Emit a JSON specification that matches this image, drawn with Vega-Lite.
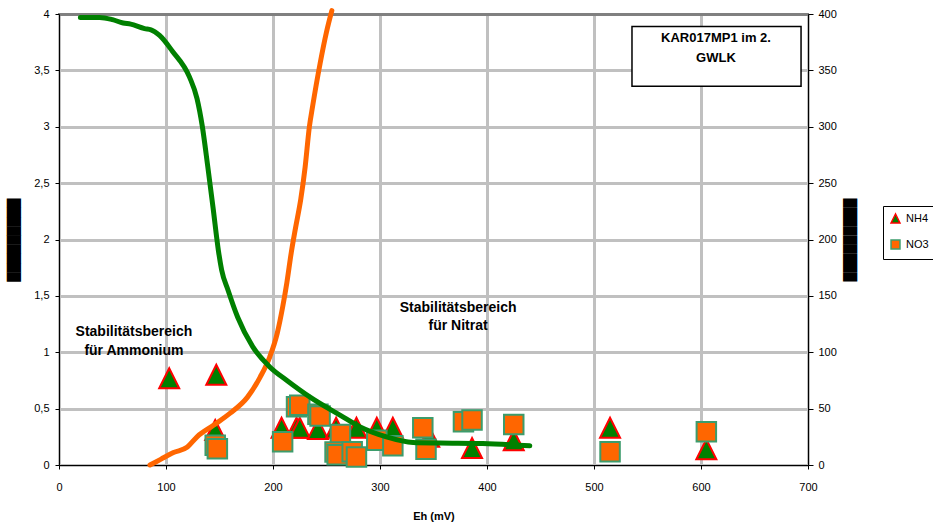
{
  "$schema": "https://vega.github.io/schema/vega-lite/v6.json",
  "width": 749,
  "height": 451,
  "autosize": {"type": "none"},
  "padding": {"left": 59, "top": 14, "right": 125, "bottom": 59},
  "background": "white",
  "config": {
    "font": "Liberation Sans",
    "view": {"stroke": "#808080", "strokeWidth": 2},
    "axis": {
      "labelFont": "Liberation Sans",
      "labelFontSize": 11,
      "labelColor": "#000",
      "domainColor": "#000",
      "domainWidth": 1,
      "tickColor": "#000",
      "tickWidth": 1,
      "tickSize": 4,
      "gridColor": "#c0c0c0",
      "gridWidth": 3,
      "titleFont": "Liberation Sans",
      "titleColor": "#000",
      "labelFlush": false
    },
    "legend": {
      "orient": "none",
      "legendX": 824,
      "legendY": 192,
      "padding": 7,
      "strokeColor": "#000",
      "fillColor": "white",
      "symbolSize": 80,
      "symbolStrokeWidth": 1.5,
      "labelFont": "Liberation Sans",
      "labelFontSize": 11,
      "labelColor": "#000",
      "labelOffset": 5,
      "rowPadding": 11
    }
  },
  "datasets": {
    "samples": [
      {"Parameter": "NH4", "Eh": 103, "Wert": 0.77},
      {"Parameter": "NH4", "Eh": 147, "Wert": 0.8},
      {"Parameter": "NH4", "Eh": 146, "Wert": 0.31},
      {"Parameter": "NH4", "Eh": 208, "Wert": 0.33},
      {"Parameter": "NH4", "Eh": 222, "Wert": 0.33},
      {"Parameter": "NH4", "Eh": 225, "Wert": 0.33},
      {"Parameter": "NH4", "Eh": 242, "Wert": 0.32},
      {"Parameter": "NH4", "Eh": 259, "Wert": 0.33},
      {"Parameter": "NH4", "Eh": 278, "Wert": 0.33},
      {"Parameter": "NH4", "Eh": 297, "Wert": 0.33},
      {"Parameter": "NH4", "Eh": 312, "Wert": 0.33},
      {"Parameter": "NH4", "Eh": 346, "Wert": 0.25},
      {"Parameter": "NH4", "Eh": 386, "Wert": 0.15},
      {"Parameter": "NH4", "Eh": 425, "Wert": 0.22},
      {"Parameter": "NH4", "Eh": 515, "Wert": 0.33},
      {"Parameter": "NH4", "Eh": 605, "Wert": 0.14},
      {"Parameter": "NO3", "Eh": 146, "Wert": 17.5},
      {"Parameter": "NO3", "Eh": 148, "Wert": 14.5},
      {"Parameter": "NO3", "Eh": 209, "Wert": 20.7},
      {"Parameter": "NO3", "Eh": 222, "Wert": 51.7},
      {"Parameter": "NO3", "Eh": 225, "Wert": 53},
      {"Parameter": "NO3", "Eh": 242, "Wert": 45},
      {"Parameter": "NO3", "Eh": 244, "Wert": 43.5},
      {"Parameter": "NO3", "Eh": 263, "Wert": 27},
      {"Parameter": "NO3", "Eh": 258, "Wert": 11.5},
      {"Parameter": "NO3", "Eh": 260, "Wert": 9},
      {"Parameter": "NO3", "Eh": 274, "Wert": 11.8},
      {"Parameter": "NO3", "Eh": 278, "Wert": 7},
      {"Parameter": "NO3", "Eh": 297, "Wert": 22},
      {"Parameter": "NO3", "Eh": 312, "Wert": 17},
      {"Parameter": "NO3", "Eh": 340, "Wert": 33},
      {"Parameter": "NO3", "Eh": 343, "Wert": 14},
      {"Parameter": "NO3", "Eh": 378, "Wert": 38.4},
      {"Parameter": "NO3", "Eh": 386, "Wert": 40},
      {"Parameter": "NO3", "Eh": 425, "Wert": 36},
      {"Parameter": "NO3", "Eh": 515, "Wert": 11.8},
      {"Parameter": "NO3", "Eh": 605, "Wert": 29.5}
    ],
    "nh4curve": [
      {"Eh": 20, "NH4": 3.97}, {"Eh": 38, "NH4": 3.97}, {"Eh": 50, "NH4": 3.95},
      {"Eh": 60, "NH4": 3.92}, {"Eh": 67, "NH4": 3.91}, {"Eh": 80, "NH4": 3.87},
      {"Eh": 86, "NH4": 3.86}, {"Eh": 94, "NH4": 3.81}, {"Eh": 106, "NH4": 3.67},
      {"Eh": 122, "NH4": 3.44}, {"Eh": 129, "NH4": 3.25}, {"Eh": 134, "NH4": 3.0},
      {"Eh": 139, "NH4": 2.65}, {"Eh": 144, "NH4": 2.28}, {"Eh": 149, "NH4": 1.9},
      {"Eh": 152, "NH4": 1.73}, {"Eh": 158, "NH4": 1.55}, {"Eh": 167, "NH4": 1.31},
      {"Eh": 181, "NH4": 1.05}, {"Eh": 197, "NH4": 0.87}, {"Eh": 213, "NH4": 0.75},
      {"Eh": 235, "NH4": 0.6}, {"Eh": 263, "NH4": 0.44}, {"Eh": 281, "NH4": 0.34},
      {"Eh": 306, "NH4": 0.25}, {"Eh": 331, "NH4": 0.2}, {"Eh": 356, "NH4": 0.195},
      {"Eh": 396, "NH4": 0.19}, {"Eh": 440, "NH4": 0.17}
    ],
    "no3curve": [
      {"Eh": 85, "NO3": 0}, {"Eh": 95, "NO3": 5}, {"Eh": 107, "NO3": 11},
      {"Eh": 120, "NO3": 16}, {"Eh": 129, "NO3": 25}, {"Eh": 144, "NO3": 35},
      {"Eh": 160, "NO3": 46}, {"Eh": 176, "NO3": 60}, {"Eh": 188, "NO3": 78},
      {"Eh": 197, "NO3": 96}, {"Eh": 204, "NO3": 117}, {"Eh": 209, "NO3": 140},
      {"Eh": 213, "NO3": 162}, {"Eh": 217, "NO3": 188}, {"Eh": 221, "NO3": 210},
      {"Eh": 226, "NO3": 236}, {"Eh": 230, "NO3": 264}, {"Eh": 234, "NO3": 300},
      {"Eh": 237, "NO3": 318}, {"Eh": 244, "NO3": 356}, {"Eh": 250, "NO3": 384},
      {"Eh": 255, "NO3": 403}
    ],
    "notes": [
      {"Text": "Stabilitätsbereich", "Eh": 70, "Pos": 1.18},
      {"Text": "für Ammonium", "Eh": 70, "Pos": 1.01},
      {"Text": "Stabilitätsbereich", "Eh": 373, "Pos": 1.39},
      {"Text": "für Nitrat", "Eh": 373, "Pos": 1.23}
    ],
    "box": [
      {"x1": 535.5, "x2": 693.5, "y1": 3.89, "y2": 3.36}
    ],
    "boxtext": [
      {"Text": "KAR017MP1 im 2.", "Eh": 614, "Pos": 3.79},
      {"Text": "GWLK", "Eh": 614, "Pos": 3.61}
    ]
  },
  "layer": [
    {
      "data": {"name": "samples"},
      "transform": [{"filter": "datum.Parameter == 'NH4'"}],
      "mark": {"type": "point", "filled": true, "size": 400, "strokeWidth": 2, "opacity": 1},
      "encoding": {
        "x": {
          "field": "Eh", "type": "quantitative",
          "scale": {"domain": [0, 700], "nice": false, "zero": false},
          "axis": {
            "values": [0, 100, 200, 300, 400, 500, 600, 700],
            "grid": true,
            "tickSize": 4,
            "labelPadding": 12,
            "title": "Eh (mV)",
            "titleFontSize": 11,
            "titleFontWeight": "bold",
            "titlePadding": 18
          }
        },
        "y": {
          "field": "Wert", "type": "quantitative",
          "scale": {"domain": [0, 4], "nice": false, "zero": false},
          "axis": {
            "orient": "left",
            "values": [0, 0.5, 1, 1.5, 2, 2.5, 3, 3.5, 4],
            "labelExpr": "replace(format(datum.value, '~g'), '.', ',')",
            "grid": true,
            "gridColor": {"condition": {"test": "datum.value == 4", "value": "#808080"}, "value": "#c0c0c0"},
            "labelPadding": 6,
            "title": "█████████",
            "titleFont": "DejaVu Sans",
            "titleFontSize": 12,
            "titleFontWeight": "normal",
            "titlePadding": 13
          }
        },
        "shape": {
          "field": "Parameter", "type": "nominal",
          "scale": {"domain": ["NH4", "NO3"], "range": ["M0,-1L-1,1L1,1Z", "square"]},
          "legend": {"title": null}
        },
        "fill": {
          "field": "Parameter", "type": "nominal",
          "scale": {"domain": ["NH4", "NO3"], "range": ["#008000", "#ff6600"]},
          "legend": {"title": null}
        },
        "stroke": {
          "field": "Parameter", "type": "nominal",
          "scale": {"domain": ["NH4", "NO3"], "range": ["#ff0000", "#3c9c6c"]},
          "legend": {"title": null}
        }
      }
    },
    {
      "data": {"name": "samples"},
      "transform": [{"filter": "datum.Parameter == 'NO3'"}],
      "mark": {"type": "point", "filled": true, "size": 380, "strokeWidth": 2, "opacity": 1},
      "encoding": {
        "x": {"field": "Eh", "type": "quantitative", "scale": {"domain": [0, 700], "nice": false, "zero": false}},
        "y": {
          "field": "Wert", "type": "quantitative",
          "scale": {"domain": [0, 400], "nice": false, "zero": false},
          "axis": {
            "orient": "right",
            "values": [0, 50, 100, 150, 200, 250, 300, 350, 400],
            "grid": false,
            "tickSize": 5,
            "labelPadding": 5,
            "title": "█████████",
            "titleFont": "DejaVu Sans",
            "titleFontSize": 12,
            "titleFontWeight": "normal",
            "titlePadding": 6
          }
        },
        "shape": {"field": "Parameter", "type": "nominal", "scale": {"domain": ["NH4", "NO3"], "range": ["M0,-1L-1,1L1,1Z", "square"]}, "legend": {"title": null}},
        "fill": {"field": "Parameter", "type": "nominal", "scale": {"domain": ["NH4", "NO3"], "range": ["#008000", "#ff6600"]}, "legend": {"title": null}},
        "stroke": {"field": "Parameter", "type": "nominal", "scale": {"domain": ["NH4", "NO3"], "range": ["#ff0000", "#3c9c6c"]}, "legend": {"title": null}}
      }
    },
    {
      "data": {"name": "no3curve"},
      "mark": {"type": "line", "color": "#ff6600", "strokeWidth": 5, "strokeCap": "round", "strokeJoin": "round", "interpolate": "monotone"},
      "encoding": {
        "x": {"field": "Eh", "type": "quantitative", "scale": {"domain": [0, 700], "nice": false, "zero": false}},
        "y": {"field": "NO3", "type": "quantitative", "scale": {"domain": [0, 400], "nice": false, "zero": false}, "axis": null}
      }
    },
    {
      "data": {"name": "nh4curve"},
      "mark": {"type": "line", "color": "#008000", "strokeWidth": 5, "strokeCap": "round", "strokeJoin": "round", "interpolate": "monotone"},
      "encoding": {
        "x": {"field": "Eh", "type": "quantitative", "scale": {"domain": [0, 700], "nice": false, "zero": false}},
        "y": {"field": "NH4", "type": "quantitative", "scale": {"domain": [0, 4], "nice": false, "zero": false}, "axis": null}
      }
    },
    {
      "data": {"name": "notes"},
      "mark": {"type": "text", "font": "Liberation Sans", "fontSize": 14, "fontWeight": "bold", "color": "#000", "align": "center", "baseline": "middle"},
      "encoding": {
        "x": {"field": "Eh", "type": "quantitative", "scale": {"domain": [0, 700], "nice": false, "zero": false}},
        "y": {"field": "Pos", "type": "quantitative", "scale": {"domain": [0, 4], "nice": false, "zero": false}, "axis": null},
        "text": {"field": "Text"}
      }
    },
    {
      "data": {"name": "box"},
      "mark": {"type": "rect", "fill": "white", "stroke": "#000", "strokeWidth": 1.5},
      "encoding": {
        "x": {"field": "x1", "type": "quantitative", "scale": {"domain": [0, 700], "nice": false, "zero": false}},
        "x2": {"field": "x2"},
        "y": {"field": "y1", "type": "quantitative", "scale": {"domain": [0, 4], "nice": false, "zero": false}, "axis": null},
        "y2": {"field": "y2"}
      }
    },
    {
      "data": {"name": "boxtext"},
      "mark": {"type": "text", "font": "Liberation Sans", "fontSize": 13, "fontWeight": "bold", "color": "#000", "align": "center", "baseline": "middle"},
      "encoding": {
        "x": {"field": "Eh", "type": "quantitative", "scale": {"domain": [0, 700], "nice": false, "zero": false}},
        "y": {"field": "Pos", "type": "quantitative", "scale": {"domain": [0, 4], "nice": false, "zero": false}, "axis": null},
        "text": {"field": "Text"}
      }
    }
  ],
  "resolve": {"scale": {"y": "independent"}, "axis": {"y": "independent"}}
}
